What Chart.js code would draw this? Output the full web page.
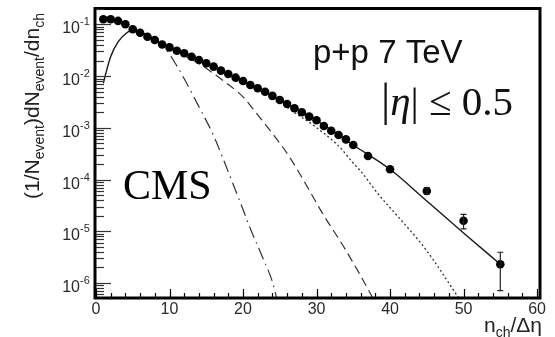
<!DOCTYPE html>
<html>
<head>
<meta charset="utf-8">
<script src="https://cdn.jsdelivr.net/npm/chart.js@4.4.0/dist/chart.umd.min.js"></script>
<style>
html, body { margin: 0; padding: 0; background: #fff; }
</style>
</head>
<body>
<canvas id="myChart" width="555" height="337"></canvas>
<script>
// measured multiplicity points
var nch = [1, 2, 3, 4, 5, 6, 7, 8, 9, 10, 11, 12, 13, 14, 15, 16, 17, 18, 19, 20,
           21, 22, 23, 24, 25, 26, 27, 28, 29, 30, 31, 32, 33, 34, 35, 37, 40, 45, 50, 55];
var yieldData = [0.126, 0.126, 0.117, 0.101, 0.081, 0.069, 0.058, 0.050, 0.041, 0.036,
                 0.031, 0.0277, 0.0238, 0.0206, 0.0178, 0.0153, 0.0128, 0.0110, 0.00935, 0.00807,
                 0.00676, 0.00585, 0.00501, 0.00415, 0.00347, 0.00290, 0.00239, 0.00200, 0.00165, 0.00140,
                 0.00109, 8.8e-4, 7.3e-4, 6.0e-4, 4.67e-4, 2.86e-4, 1.58e-4, 6.0e-5, 1.6e-5, 2.3e-6];

// error bars (only visible ones)
var errX = [45, 50, 55];
var errLow = [5.2e-5, 1.11e-5, 7.1e-7];
var errHigh = [6.97e-5, 2.13e-5, 3.93e-6];

// total fit (solid)
var fitX = [1, 1.5, 2, 3, 4, 5, 6, 7, 8, 9, 10, 12, 15, 18, 21, 24, 27, 30, 33, 35, 40, 45, 50, 55];
var fitY = [0.0073, 0.0138, 0.024, 0.046, 0.0655, 0.078, 0.072, 0.061, 0.051, 0.042, 0.036, 0.0277, 0.0178, 0.0110,
            0.00676, 0.00410, 0.00239, 0.00140, 7.3e-4, 4.67e-4, 1.58e-4, 3.85e-5, 9.3e-6, 2.3e-6];

// component 1 (dash-dot)
var c1X = [5, 7, 8.2, 9.4, 11, 12, 14, 16, 17.3, 18.6, 20, 21, 22.5, 24, 24.6];
var c1Y = [0.0759, 0.0603, 0.0468, 0.0347, 0.0158, 0.00891, 0.00257, 7.08e-4, 2.51e-4, 8.51e-5, 2.63e-5, 1.12e-5, 3.55e-6, 1.05e-6, 5.0e-7];

// component 2 (dashed)
var c2X = [8, 10, 12, 14.3, 15.9, 17.05, 20, 22, 23.8, 26.3, 28.6, 30.8, 33.55, 35.8, 37.7];
var c2Y = [0.0479, 0.0355, 0.0251, 0.0165, 0.01148, 0.00871, 0.00398, 0.00178, 8.51e-4, 2.77e-4, 7.87e-5, 2.24e-5, 5.43e-6, 1.55e-6, 5.0e-7];

// component 3 (dotted)
var c3X = [18, 21, 23, 25.2, 25.9, 29.5, 33.1, 35.1, 35.8, 38.5, 40.3, 44.9, 49.4];
var c3Y = [0.0107, 0.00646, 0.00468, 0.00316, 0.00257, 0.00114, 4.33e-4, 2.0e-4, 1.58e-4, 5.01e-5, 2.57e-5, 4.37e-6, 5.0e-7];

var xTicks = [0, 10, 20, 30, 40, 50, 60];
var yExps = [-1, -2, -3, -4, -5, -6];

function pts(xs, ys) {
    return xs.map(function (x, i) { return { x: x, y: ys[i] }; });
}

function richText(ctx, parts, x, y) {
    var cx = x;
    parts.forEach(function (p) {
        ctx.font = p.font;
        ctx.fillText(p.t, cx, y + (p.dy || 0));
        cx += ctx.measureText(p.t).width;
    });
    return cx - x;
}

var sans = '"Liberation Sans", Arial, sans-serif';
var serif = '"Liberation Serif", "Times New Roman", serif';

var framePlugin = {
    id: 'frame',
    afterDatasetsDraw: function (chart) {
        var ctx = chart.ctx;
        var xs = chart.scales.x, ys = chart.scales.y;
        var a = chart.chartArea;
        ctx.save();

        // error bars
        ctx.strokeStyle = '#222';
        ctx.lineWidth = 1.2;
        errX.forEach(function (x, i) {
            var px = xs.getPixelForValue(x);
            var p1 = ys.getPixelForValue(errLow[i]);
            var p2 = ys.getPixelForValue(errHigh[i]);
            ctx.beginPath();
            ctx.moveTo(px, p1); ctx.lineTo(px, p2);
            ctx.moveTo(px - 3, p1); ctx.lineTo(px + 3, p1);
            ctx.moveTo(px - 3, p2); ctx.lineTo(px + 3, p2);
            ctx.stroke();
        });

        // frame
        ctx.strokeStyle = '#000';
        ctx.lineWidth = 3;
        ctx.strokeRect(a.left - 1, a.top + 0.5, a.right - a.left + 1, a.bottom - a.top + 0.5);

        // y ticks (log)
        ctx.lineWidth = 1.2;
        ctx.strokeStyle = '#333';
        for (var d = -7; d <= 0; d++) {
            for (var m = 1; m <= 9; m++) {
                var v = m * Math.pow(10, d);
                if (v < ys.min || v > ys.max) continue;
                var py = Math.round(ys.getPixelForValue(v)) + 0.5;
                var len = m === 1 ? 15 : 8;
                ctx.beginPath();
                ctx.moveTo(a.left, py); ctx.lineTo(a.left + len, py);
                ctx.stroke();
            }
        }
        // x ticks
        ctx.strokeStyle = '#000';
        for (var t = 0; t <= 60; t += 2) {
            var px = Math.round(xs.getPixelForValue(t)) + 0.5;
            var l = t % 10 === 0 ? 8 : 4;
            ctx.beginPath();
            ctx.moveTo(px, a.bottom); ctx.lineTo(px, a.bottom - l);
            ctx.stroke();
        }

        // tick labels
        ctx.fillStyle = '#2a2a2a';
        ctx.textBaseline = 'alphabetic';
        ctx.font = '16px ' + sans;
        ctx.textAlign = 'center';
        xTicks.forEach(function (t) {
            ctx.fillText(String(t), xs.getPixelForValue(t), 314);
        });
        yExps.forEach(function (e) {
            var py = ys.getPixelForValue(Math.pow(10, e));
            ctx.textAlign = 'right';
            ctx.font = '16px ' + sans;
            ctx.fillText('10', 80, py + 9);
            ctx.textAlign = 'left';
            ctx.font = '11px ' + sans;
            ctx.fillText('-' + (-e), 80, py + 1);
        });

        // axis titles
        ctx.textAlign = 'left';
        ctx.fillStyle = '#222';
        var big = '21px ' + sans, small = '14px ' + sans;
        ctx.save();
        ctx.translate(39, 199);
        ctx.rotate(-Math.PI / 2);
        richText(ctx, [
            { t: '(1/N', font: big },
            { t: 'event', font: small, dy: 5 },
            { t: ')dN', font: big },
            { t: 'event', font: small, dy: 5 },
            { t: '/dn', font: big },
            { t: 'ch', font: small, dy: 5 }
        ], 0, 0);
        ctx.restore();

        richText(ctx, [
            { t: 'n', font: big },
            { t: 'ch', font: small, dy: 5 },
            { t: '/\u0394\u03b7', font: big }
        ], 484, 332);

        // annotations
        ctx.fillStyle = '#000';
        ctx.font = '42px ' + serif;
        ctx.fillText('CMS', 123, 199);

        ctx.fillStyle = '#111';
        ctx.font = '33px ' + sans;
        ctx.fillText('p+p 7 TeV', 313, 63);

        richText(ctx, [
            { t: '|', font: '46px ' + serif },
            { t: '\u03b7', font: 'italic 41px ' + serif },
            { t: '| \u2264 0.5', font: '41px ' + serif }
        ], 381, 115);

        ctx.restore();
    }
};

var ctx = document.getElementById('myChart').getContext('2d');
var myChart = new Chart(ctx, {
    type: 'scatter',
    data: {
        datasets: [{
            label: 'data',
            data: pts(nch, yieldData),
            pointRadius: 4.3,
            pointBackgroundColor: '#000',
            pointBorderColor: '#000',
            pointBorderWidth: 0,
            showLine: false,
            order: 0
        }, {
            label: 'fit',
            data: pts(fitX, fitY),
            showLine: true,
            pointRadius: 0,
            borderColor: '#1a1a1a',
            borderWidth: 1.4,
            cubicInterpolationMode: 'monotone',
            order: 1
        }, {
            label: 'comp1',
            data: pts(c1X, c1Y),
            showLine: true,
            pointRadius: 0,
            borderColor: '#333',
            borderWidth: 1.2,
            borderDash: [12, 5, 1.5, 5],
            cubicInterpolationMode: 'monotone',
            order: 2
        }, {
            label: 'comp2',
            data: pts(c2X, c2Y),
            showLine: true,
            pointRadius: 0,
            borderColor: '#333',
            borderWidth: 1.2,
            borderDash: [9, 5],
            cubicInterpolationMode: 'monotone',
            order: 3
        }, {
            label: 'comp3',
            data: pts(c3X, c3Y),
            showLine: true,
            pointRadius: 0,
            borderColor: '#333',
            borderWidth: 1.3,
            borderDash: [2, 2.5],
            cubicInterpolationMode: 'monotone',
            order: 4
        }]
    },
    options: {
        responsive: false,
        animation: false,
        layout: { padding: { left: 96, right: 15, top: 8, bottom: 40 } },
        plugins: {
            legend: { display: false },
            tooltip: { enabled: false }
        },
        scales: {
            x: { type: 'linear', min: 0, max: 60.4, display: false },
            y: { type: 'logarithmic', min: 5.36e-7, max: 0.208, display: false }
        }
    },
    plugins: [framePlugin]
});
</script>
</body>
</html>
